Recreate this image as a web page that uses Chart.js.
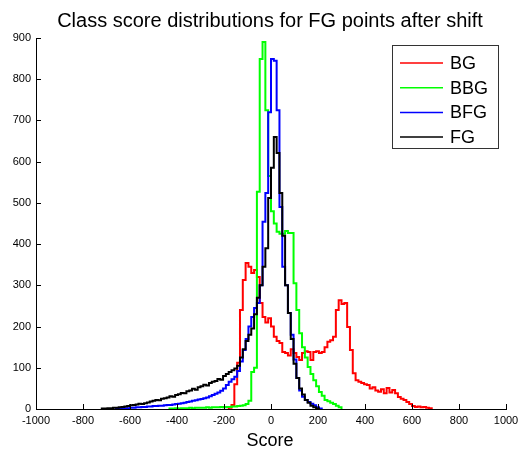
<!DOCTYPE html>
<html>
<head>
<meta charset="utf-8">
<script src="https://cdn.jsdelivr.net/npm/chart.js@4.4.1/dist/chart.umd.min.js"></script>
<style>
  html, body { margin: 0; padding: 0; background: #fff; }
  #wrap { width: 525px; height: 455px; }
</style>
</head>
<body>
<div id="wrap"><canvas id="scoreChart"></canvas></div>
<script>
const FONT = '"Liberation Sans", Arial, sans-serif'

// histogram bins: every series uses the same bin width, each starts at its own left edge
const binWidth = 12

const bgStart = -180
const bgCounts = [3, 10, 60, 112, 240, 313, 354, 345, 330, 337, 320, 257, 223, 210, 220, 200, 175, 165, 160, 138,
  136, 130, 145, 136, 126, 119, 136, 140, 138, 119, 138, 140, 136, 138, 150, 163, 167, 175, 240, 264,
  255, 257, 199, 143, 87, 70, 66, 63, 60, 58, 50, 53, 45, 42, 48, 38, 51, 40, 46, 38,
  29, 25, 22, 17, 12, 7, 5, 6, 4, 5, 3, 2]

const bbgStart = -432
const bbgCounts = [1, 1, 2, 1, 2, 2, 2, 3, 2, 3, 3, 3, 3, 4, 3, 4, 4, 4, 5, 4,
  5, 5, 6, 6, 7, 8, 9, 12, 20, 90, 100, 527, 849, 890, 725, 565, 480, 450, 430, 425,
  425, 432, 427, 427, 305, 240, 184, 150, 125, 102, 85, 70, 55, 41, 32, 22, 19, 15, 12, 8, 4]

const bfgStart = -660
const bfgCounts = [1, 1, 1, 2, 2, 3, 3, 4, 4, 5, 5, 6, 6, 7, 7, 8, 8, 9, 10, 10,
  11, 12, 13, 14, 15, 17, 18, 20, 21, 23, 24, 26, 28, 31, 34, 37, 40, 44, 50, 58,
  66, 72, 78, 92, 115, 143, 170, 200, 223, 245, 257, 300, 454, 524, 720, 849, 845, 725, 490, 345,
  300, 233, 180, 120, 75, 45, 30, 22, 17, 13, 9, 4, 1]

const fgStart = -720
const fgCounts = [1, 1, 2, 2, 3, 3, 4, 5, 6, 7, 9, 10, 11, 13, 12, 14, 16, 18, 20, 22,
  21, 25, 26, 28, 31, 30, 34, 36, 39, 38, 43, 45, 49, 47, 53, 55, 59, 57, 63, 66,
  68, 73, 71, 80, 85, 90, 94, 98, 105, 125, 145, 165, 180, 195, 230, 270, 300, 345, 390, 512,
  585, 660, 621, 524, 420, 300, 233, 170, 110, 75, 50, 35, 22, 15, 8, 4, 1]

const seriesNames = ["BG", "BBG", "BFG", "FG"]
const seriesColors = ["#ff0000", "#00ff00", "#0000ff", "#000000"]

const xTicks = [-1000, -800, -600, -400, -200, 0, 200, 400, 600, 800, 1000]
const yTicks = [0, 100, 200, 300, 400, 500, 600, 700, 800, 900]

function histPoints(start, counts) {
  const pts = [{ x: start, y: 0 }]
  counts.forEach((c, i) => pts.push({ x: start + i * binWidth, y: c }))
  pts.push({ x: start + counts.length * binWidth, y: 0 })
  return pts
}

// title, x label, inward ticks and the boxed legend
const decorations = {
  id: "decorations",
  afterDraw(chart) {
    const { ctx, chartArea } = chart
    const xs = chart.scales.x
    const ys = chart.scales.y
    ctx.save()

    ctx.strokeStyle = "#000"
    ctx.lineWidth = 1
    ctx.beginPath()
    xTicks.forEach(v => {
      const px = Math.round(xs.getPixelForValue(v)) + 0.5
      ctx.moveTo(px, chartArea.bottom)
      ctx.lineTo(px, chartArea.bottom - 5)
    })
    yTicks.forEach(v => {
      const py = Math.round(ys.getPixelForValue(v)) + 0.5
      ctx.moveTo(chartArea.left, py)
      ctx.lineTo(chartArea.left + 5, py)
    })
    ctx.stroke()

    ctx.fillStyle = "#000"
    ctx.textAlign = "center"
    ctx.textBaseline = "alphabetic"
    ctx.font = `20px ${FONT}`
    ctx.fillText("Class score distributions for FG points after shift", 270, 27)
    ctx.font = `18px ${FONT}`
    ctx.fillText("Score", 270, 446)

    // legend
    const box = { x: 392.5, y: 45.5, w: 106, h: 103 }
    ctx.fillStyle = "#fff"
    ctx.fillRect(box.x, box.y, box.w, box.h)
    ctx.strokeStyle = "#333"
    ctx.strokeRect(box.x, box.y, box.w, box.h)
    ctx.textAlign = "left"
    ctx.textBaseline = "middle"
    seriesNames.forEach((name, i) => {
      const y = 63 + i * 24.7
      ctx.strokeStyle = seriesColors[i]
      ctx.lineWidth = 1.5
      ctx.beginPath()
      ctx.moveTo(400, y)
      ctx.lineTo(443, y)
      ctx.stroke()
      ctx.fillStyle = "#000"
      ctx.fillText(name, 450, y + 1)
    })
    ctx.restore()
  }
}

const starts = [bgStart, bbgStart, bfgStart, fgStart]
const counts = [bgCounts, bbgCounts, bfgCounts, fgCounts]

new Chart(document.getElementById("scoreChart"), {
  type: "line",
  data: {
    datasets: seriesNames.map((name, i) => ({
      label: name,
      data: histPoints(starts[i], counts[i]),
      borderColor: seriesColors[i],
      borderWidth: 2,
      pointRadius: 0,
      stepped: true,
      fill: false,
      order: 4 - i
    }))
  },
  options: {
    animation: false,
    responsive: true,
    maintainAspectRatio: false,
    layout: { padding: { top: 38, right: 19, left: 0, bottom: 0 } },
    plugins: {
      legend: { display: false },
      title: { display: false },
      tooltip: { enabled: false }
    },
    scales: {
      x: {
        type: "linear",
        min: -1000,
        max: 1000,
        afterFit: (scale) => { scale.height = 46 },
        afterBuildTicks: (scale) => { scale.ticks = xTicks.map(v => ({ value: v })) },
        ticks: {
          color: "#000", padding: 5, maxRotation: 0,
          font: { family: FONT, size: 11 },
          callback: (v) => String(v)
        },
        grid: { display: false, drawTicks: false },
        border: { display: true, color: "#000", width: 1 }
      },
      y: {
        min: 0,
        max: 900,
        afterFit: (scale) => { scale.width = 36 },
        afterBuildTicks: (scale) => { scale.ticks = yTicks.map(v => ({ value: v })) },
        ticks: {
          color: "#000", padding: 5,
          font: { family: FONT, size: 11 },
          callback: (v) => String(v)
        },
        grid: { display: false, drawTicks: false },
        border: { display: true, color: "#000", width: 1 }
      }
    }
  },
  plugins: [decorations]
})
</script>
</body>
</html>
